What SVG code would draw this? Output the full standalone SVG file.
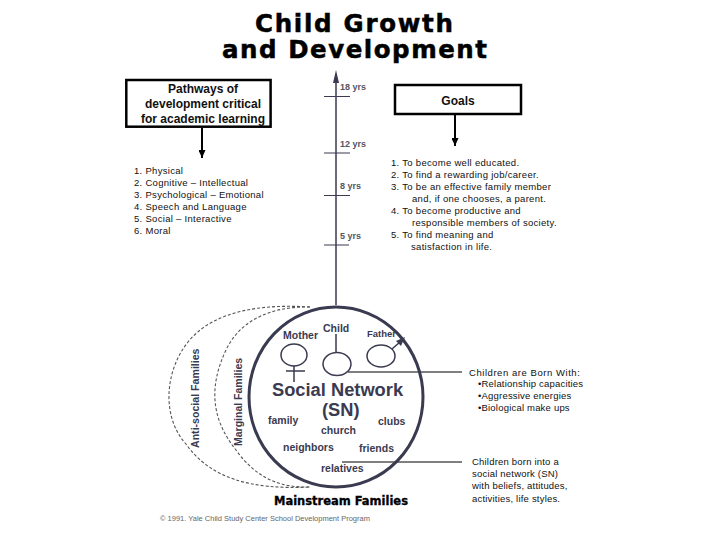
<svg xmlns="http://www.w3.org/2000/svg" width="720" height="540" viewBox="0 0 720 540">
<style>
text{font-family:"Liberation Sans",Arial,sans-serif;fill:#111}
.t{font-family:"DejaVu Sans",sans-serif;font-size:24.500px;font-weight:bold;fill:#000;stroke:#000;stroke-width:.5}
.h{font-size:12px;font-weight:bold;text-anchor:middle}
.b{font-size:9.5px;letter-spacing:.3px}
.n{font-size:9.5px;letter-spacing:.2px}
.g{fill:#3a3a50;font-weight:bold}
.a{fill:#55555f;font-weight:bold;font-size:9px}
.w{fill:#3a3a50;font-weight:bold;font-size:10.500px}
.k{stroke:#000;fill:none}
.d{stroke:#3a3a50;fill:none}
.o{fill:none;stroke:#555;stroke-width:1.1;stroke-dasharray:3 2}
</style>
<defs><marker id="ah" markerWidth="8" markerHeight="7" refX="8" refY="3.500" orient="auto" markerUnits="userSpaceOnUse"><path d="M0 0L8 3.500L0 7Z" fill="#000"/></marker></defs>
<rect width="720" height="540" fill="#fff"/>
<g id="title"><text class="t" x="255" y="32" textLength="198">Child Growth</text><text class="t" x="222" y="58" textLength="265">and Development</text></g>
<g id="connectors">
<path class="k" stroke-width="2" d="M202 128V158" marker-end="url(#ah)"/>
<path class="k" stroke-width="2" d="M455 115V146" marker-end="url(#ah)"/>
<path class="d" stroke-width="1.500" d="M336 78V305M336 334V352"/>
<path d="M336 70L333 83H339Z" fill="#3a3a50"/>
<path class="d" stroke-width="1.200" d="M324 96.500H350M324 153H350M324 195.500H350M324 245H349"/>
<path class="k" d="M348 372H462M342 462H462"/>
</g>
<g id="pathways"><rect x="126.300" y="80" width="144.300" height="46.700" fill="#fff" stroke="#000" stroke-width="2.500"/>
<text class="h" x="203" y="92.500">Pathways of</text><text class="h" x="203" y="107.500">development critical</text><text class="h" x="203" y="122.500">for academic learning</text></g>
<g id="goals"><rect x="395" y="85" width="126" height="29" fill="#fff" stroke="#000" stroke-width="2.500"/><text class="h" x="458" y="105">Goals</text></g>
<g id="pathway-list"><text class="b" x="134" y="174">1. Physical</text><text class="b" x="134" y="186">2. Cognitive – Intellectual</text><text class="b" x="134" y="198">3. Psychological – Emotional</text><text class="b" x="134" y="210">4. Speech and Language</text><text class="b" x="134" y="222">5. Social – Interactive</text><text class="b" x="134" y="234">6. Moral</text></g>
<g id="goal-list"><text class="b" x="391" y="165.500">1. To become well educated.</text><text class="b" x="391" y="178">2. To find a rewarding job/career.</text><text class="b" x="391" y="190">3. To be an effective family member</text><text class="b" x="412" y="202">and, if one chooses, a parent.</text><text class="b" x="391" y="214">4. To become productive and</text><text class="b" x="412" y="226">responsible members of society.</text><text class="b" x="391" y="238">5. To find meaning and</text><text class="b" x="411" y="250">satisfaction in life.</text></g>
<g id="ages"><text class="a" x="340" y="90">18 yrs</text><text class="a" x="340" y="147">12 yrs</text><text class="a" x="340" y="189">8 yrs</text><text class="a" x="340" y="239">5 yrs</text></g>
<g id="families">
<path class="o" d="M310 307C262 304 214 310 188 342C164 372 162 418 186 444C210 478 250 490 310 487"/>
<path class="o" d="M310 307C272 306 240 320 226 350C208 388 212 420 236 450C256 478 280 488 310 487"/>
<text class="g" font-size="10.600" transform="rotate(-90 199 448)" x="199" y="448">Anti-social Families</text>
<text class="g" font-size="10.500" transform="rotate(-90 242 446)" x="242" y="446">Marginal Families</text>
</g>
<g id="social-network">
<ellipse cx="336" cy="397" rx="87" ry="90" fill="none" stroke="#3a3a50" stroke-width="3"/>
<ellipse cx="294" cy="355" rx="13" ry="11" class="d" stroke-width="1.500"/>
<path class="d" stroke-width="1.500" d="M294 366V382M286 371H305"/>
<ellipse cx="337" cy="364" rx="14" ry="11.500" class="d" stroke-width="1.500"/>
<ellipse cx="381" cy="356" rx="14" ry="11" class="d" stroke-width="1.500"/>
<path class="d" stroke-width="1.500" d="M392 349L400 342"/><path d="M405 337L396 341L401 346Z" fill="#3a3a50"/>
<text class="w" x="283" y="339">Mother</text><text class="w" x="323" y="332">Child</text><text class="w" x="367" y="337" style="font-size:9.500px">Father</text>
<text class="g" font-size="18.300" x="272" y="396">Social Network</text><text class="g" font-size="18.300" x="322" y="416">(SN)</text>
<text class="w" x="268" y="424">family</text><text class="w" x="378" y="425">clubs</text><text class="w" x="321" y="434">church</text><text class="w" x="283" y="451">neighbors</text><text class="w" x="359" y="452">friends</text><text class="w" x="321" y="472">relatives</text>
</g>
<g id="mainstream"><text font-size="11.500" font-weight="bold" x="274" y="505" stroke="#000" stroke-width=".3" style="font-family:'DejaVu Sans',sans-serif;fill:#000" textLength="134">Mainstream Families</text></g>
<g id="notes"><text class="n" style="letter-spacing:.55px" x="469" y="376">Children are Born With:</text><text class="n" x="478" y="387">•Relationship capacities</text><text class="n" x="478" y="399">•Aggressive energies</text><text class="n" x="478" y="411">•Biological make ups</text>
<text class="n" x="472" y="465">Children born into a</text><text class="n" x="472" y="477">social network (SN)</text><text class="n" x="472" y="489">with beliefs, attitudes,</text><text class="n" x="472" y="502">activities, life styles.</text></g>
<text x="160" y="521" font-size="7.500" style="fill:#666">© 1991. Yale Child Study Center School Development Program</text>
</svg>
